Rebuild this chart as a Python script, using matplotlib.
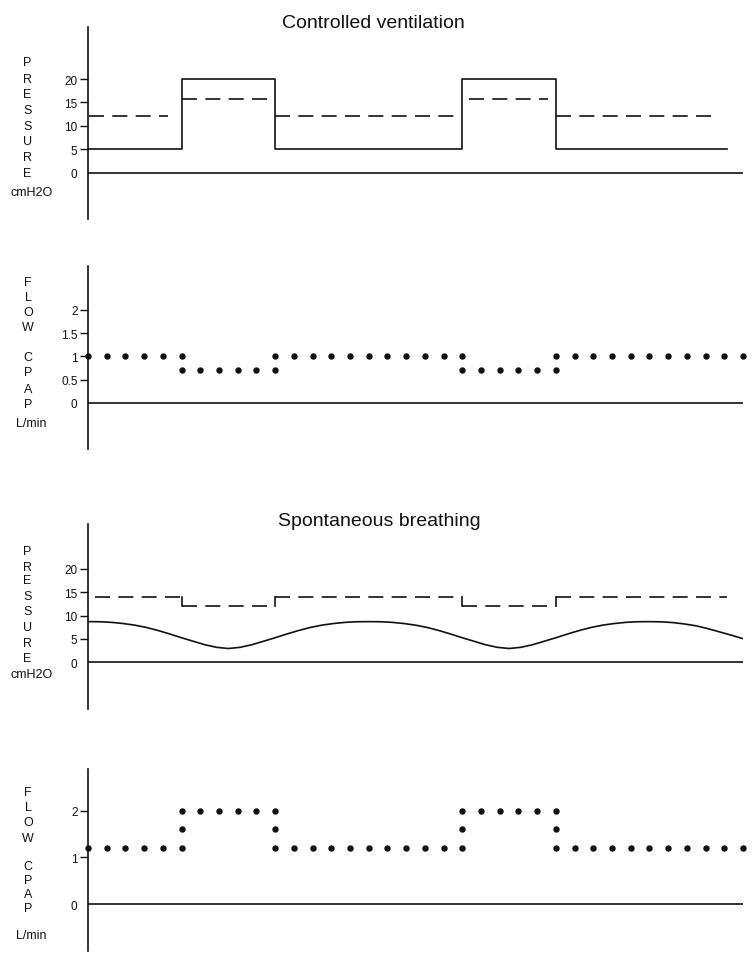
import matplotlib
matplotlib.use("Agg")
import matplotlib.pyplot as plt

plt.rcParams["font.family"] = ["Liberation Sans", "DejaVu Sans"]

# Controlled ventilation - pressure (cmH2O)
ctrl_p_t = [0, 1, 2, 4, 5, 6.83]
ctrl_p_v = [5, 20, 5, 20, 5, 5]
ctrl_dash_start = [0.01, 1.0, 2.0, 4.07, 5.0]
ctrl_dash_end = [0.85, 1.95, 3.93, 4.92, 6.72]
ctrl_dash_v = [12, 15.7, 12, 15.7, 12]

# Sample times of the flow dots (s)
flow_t = [0, 0.2, 0.4, 0.6, 0.8, 1.0, 1.2, 1.4, 1.6, 1.8, 2.0, 2.2, 2.4, 2.6, 2.8,
          3.0, 3.2, 3.4, 3.6, 3.8, 4.0, 4.2, 4.4, 4.6, 4.8, 5.0, 5.2, 5.4, 5.6,
          5.8, 6.0, 6.2, 6.4, 6.6, 6.8, 7.0]

# Controlled ventilation - CPAP flow (L/min)
ctrl_flow = [1, 1, 1, 1, 1, 1, 0.7, 0.7, 0.7, 0.7, 1, 1, 1, 1, 1,
             1, 1, 1, 1, 1, 1, 0.7, 0.7, 0.7, 0.7, 1, 1, 1, 1,
             1, 1, 1, 1, 1, 1, 1]
ctrl_extra_t = [1.0, 2.0, 4.0, 5.0]
ctrl_extra_v = [0.7, 0.7, 0.7, 0.7]

# Spontaneous breathing - pressure (cmH2O), read every 0.125 s
spont_p_t = [0, 0.125, 0.25, 0.375, 0.5, 0.625, 0.75, 0.875,
             1.0, 1.125, 1.25, 1.375, 1.5, 1.625, 1.75, 1.875,
             2.0, 2.125, 2.25, 2.375, 2.5, 2.625, 2.75, 2.875,
             3.0, 3.125, 3.25, 3.375, 3.5, 3.625, 3.75, 3.875,
             4.0, 4.125, 4.25, 4.375, 4.5, 4.625, 4.75, 4.875,
             5.0, 5.125, 5.25, 5.375, 5.5, 5.625, 5.75, 5.875,
             6.0, 6.125, 6.25, 6.375, 6.5, 6.625, 6.75, 6.875, 7.0]
spont_p_v = [8.7, 8.68, 8.55, 8.3, 7.95, 7.45, 6.8, 6.05,
             5.25, 4.5, 3.75, 3.2, 2.95, 3.2, 3.75, 4.5,
             5.25, 6.05, 6.8, 7.45, 7.95, 8.3, 8.55, 8.68,
             8.7, 8.68, 8.55, 8.3, 7.95, 7.45, 6.8, 6.05,
             5.25, 4.5, 3.75, 3.2, 2.95, 3.2, 3.75, 4.5,
             5.25, 6.05, 6.8, 7.45, 7.95, 8.3, 8.55, 8.68,
             8.7, 8.66, 8.5, 8.2, 7.8, 7.2, 6.5, 5.8, 5.05]
spont_dash_t = [0.07, 1.0, 2.0, 4.0, 5.0, 6.83]
spont_dash_v = [14, 12, 14, 12, 14, 14]

# Spontaneous breathing - CPAP flow (L/min)
spont_flow = [1.2, 1.2, 1.2, 1.2, 1.2, 1.2, 2, 2, 2, 2, 1.2, 1.2, 1.2, 1.2, 1.2,
              1.2, 1.2, 1.2, 1.2, 1.2, 1.2, 2, 2, 2, 2, 1.2, 1.2, 1.2, 1.2,
              1.2, 1.2, 1.2, 1.2, 1.2, 1.2, 1.2]
spont_extra_t = [1.0, 1.0, 2.0, 2.0, 4.0, 4.0, 5.0, 5.0]
spont_extra_v = [1.6, 2.0, 1.6, 2.0, 1.6, 2.0, 1.6, 2.0]

W, H = 755, 954
fig = plt.figure(figsize=(W / 100, H / 100), dpi=100)
ink = "#111111"


def make_axes(top_px, bottom_px, ylim, yticks, yticklabels):
    ax = fig.add_axes([88 / W, 1 - bottom_px / H, 655 / W, (bottom_px - top_px) / H])
    ax.set_xlim(0, 7)
    ax.set_ylim(*ylim)
    for side in ["top", "right", "bottom"]:
        ax.spines[side].set_visible(False)
    ax.spines["left"].set_linewidth(1.2)
    ax.spines["left"].set_color(ink)
    ax.set_xticks([])
    ax.set_yticks(yticks)
    ax.set_yticklabels(yticklabels)
    ax.tick_params(axis="y", direction="out", length=6, width=1.0, pad=1.5,
                   labelsize=8.5, colors=ink)
    # no tick mark at zero, the baseline starts there
    ax.yaxis.get_major_ticks()[0].tick1line.set_visible(False)
    ax.axhline(0, color=ink, lw=1.2)
    return ax


def side_label(letters, ys, x_px, unit, unit_y, unit_x):
    for ch, y in zip(letters, ys):
        fig.text(x_px / W, 1 - y / H, ch, ha="center", va="center", fontsize=9, color=ink)
    fig.text(unit_x / W, 1 - unit_y / H, unit, ha="center", va="center", fontsize=9, color=ink)


# Panel 1: controlled ventilation pressure
ax1 = make_axes(28, 220, (-9.88, 31.1), [0, 5, 10, 15, 20], ["0", "5", "10", "15", "20"])
ax1.plot(ctrl_p_t, ctrl_p_v, drawstyle="steps-post", color=ink, lw=1.2)
for x0, x1, v in zip(ctrl_dash_start, ctrl_dash_end, ctrl_dash_v):
    ax1.plot([x0, x1], [v, v], color=ink, lw=1.2, dashes=(9, 5))
fig.text(373 / W, 1 - 23 / H, "Controlled ventilation", ha="center", va="center",
         fontsize=14, color=ink)
side_label("PRESSURE", [63, 80, 95, 111, 127, 142, 158, 174], 27.5, "cmH2O", 193, 31.5)

# Panel 2: controlled ventilation CPAP flow
ax2 = make_axes(267, 450, (-0.99, 2.946), [0, 0.5, 1, 1.5, 2], ["0", "0.5", "1", "1.5", "2"])
ax2.plot(flow_t, ctrl_flow, "o", color=ink, ms=3.6, clip_on=False)
ax2.plot(ctrl_extra_t, ctrl_extra_v, "o", color=ink, ms=3.6, clip_on=False)
side_label("FLOW", [283, 298, 313, 328], 28, "L/min", 424, 31)
side_label("CPAP", [358, 373, 390, 405], 28, "", 424, 31)

# Panel 3: spontaneous breathing pressure
ax3 = make_axes(525, 710, (-10.0, 29.6), [0, 5, 10, 15, 20], ["0", "5", "10", "15", "20"])
ax3.plot(spont_p_t, spont_p_v, color=ink, lw=1.2)
for i in range(len(spont_dash_t) - 1):
    ax3.plot([spont_dash_t[i], spont_dash_t[i + 1]], [spont_dash_v[i], spont_dash_v[i]],
             color=ink, lw=1.2, dashes=(9, 5))
    if spont_dash_v[i + 1] != spont_dash_v[i]:
        ax3.plot([spont_dash_t[i + 1], spont_dash_t[i + 1]],
                 [spont_dash_v[i], spont_dash_v[i + 1]], color=ink, lw=1.2)
fig.text(379 / W, 1 - 522 / H, "Spontaneous breathing", ha="center", va="center",
         fontsize=14, color=ink)
side_label("PRESSURE", [552, 568, 581, 597, 612, 628, 644, 659], 27.5, "cmH2O", 675, 31.5)

# Panel 4: spontaneous breathing CPAP flow
ax4 = make_axes(770, 952, (-1.0, 2.89), [0, 1, 2], ["0", "1", "2"])
ax4.plot(flow_t, spont_flow, "o", color=ink, ms=3.6, clip_on=False)
ax4.plot(spont_extra_t, spont_extra_v, "o", color=ink, ms=3.6, clip_on=False)
side_label("FLOW", [793, 808, 823, 839], 28, "L/min", 936, 31)
side_label("CPAP", [867, 881, 895, 909], 28, "", 936, 31)

fig.savefig("out.png", dpi=100)
plt.close(fig)
